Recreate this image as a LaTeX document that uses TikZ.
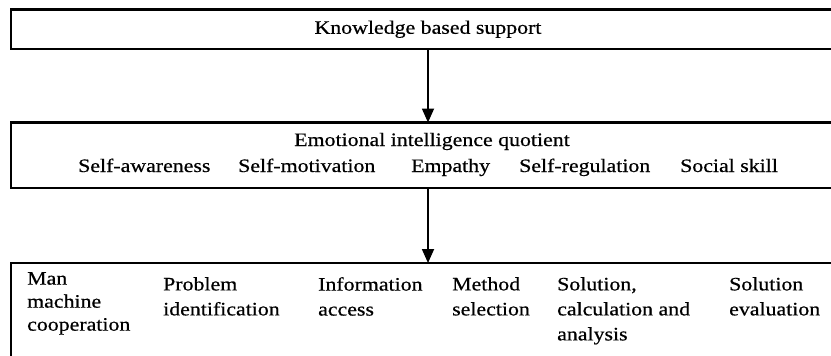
\documentclass[tikz,border=0pt]{standalone}
\usepackage{fontspec}
\setmainfont{Liberation Serif}[FakeStretch=1.15, FakeBold=0.6]
\usetikzlibrary{positioning,arrows.meta}

\begin{document}
\begin{tikzpicture}[x=1pt, y=-1pt,
          stage/.style={rectangle, draw=black, line width=2.4pt,
              minimum width=834pt, inner sep=0pt, outer sep=0pt,
              font=\fontsize{19}{25}\selectfont},
          txt/.style={inner sep=0pt, font=\fontsize{19}{25}\selectfont},
          col/.style={txt, anchor=north west, align=left},
          arr/.style={-{Triangle[length=14pt, width=12pt]}, line width=1.8pt}
        ]
        \useasboundingbox (0,0) rectangle (831,356);
        \clip (0,0) rectangle (831,356);
        \node[stage, minimum height=39.5pt] (support) at (428,29.25) {Knowledge based support};
        \node[stage, minimum height=65.5pt, below=73.5pt of support] (eiq) {};
        \node[stage, minimum height=94pt, below=75pt of eiq] (process) {};
        \draw[arr] (support) -- (eiq);
        \draw[arr] (eiq) -- (process);
        \node[txt, anchor=base] (eiqtitle) at (432,146) {Emotional intelligence quotient};
        \node[txt, anchor=base west] (aware)   at (78,172)  {Self-awareness};
        \node[txt, anchor=base west] (motiv)   at (238,172) {Self-motivation};
        \node[txt, anchor=base west] (empathy) at (411,172) {Empathy};
        \node[txt, anchor=base west] (regul)   at (519,172) {Self-regulation};
        \node[txt, anchor=base west] (social)  at (680,172) {Social skill};
        \node[col, font=\fontsize{19}{23}\selectfont] (coop) at (27,272) {Man\\machine\\cooperation};
        \node[col] (problem)    at (163,277) {Problem\\identification};
        \node[col] (access)     at (318,277) {Information\\access};
        \node[col] (method)     at (452,277) {Method\\selection};
        \node[col] (solution)   at (557,277) {Solution,\\calculation and\\analysis};
        \node[col] (evaluation) at (729,277) {Solution\\evaluation};
      \end{tikzpicture}
\end{document}
